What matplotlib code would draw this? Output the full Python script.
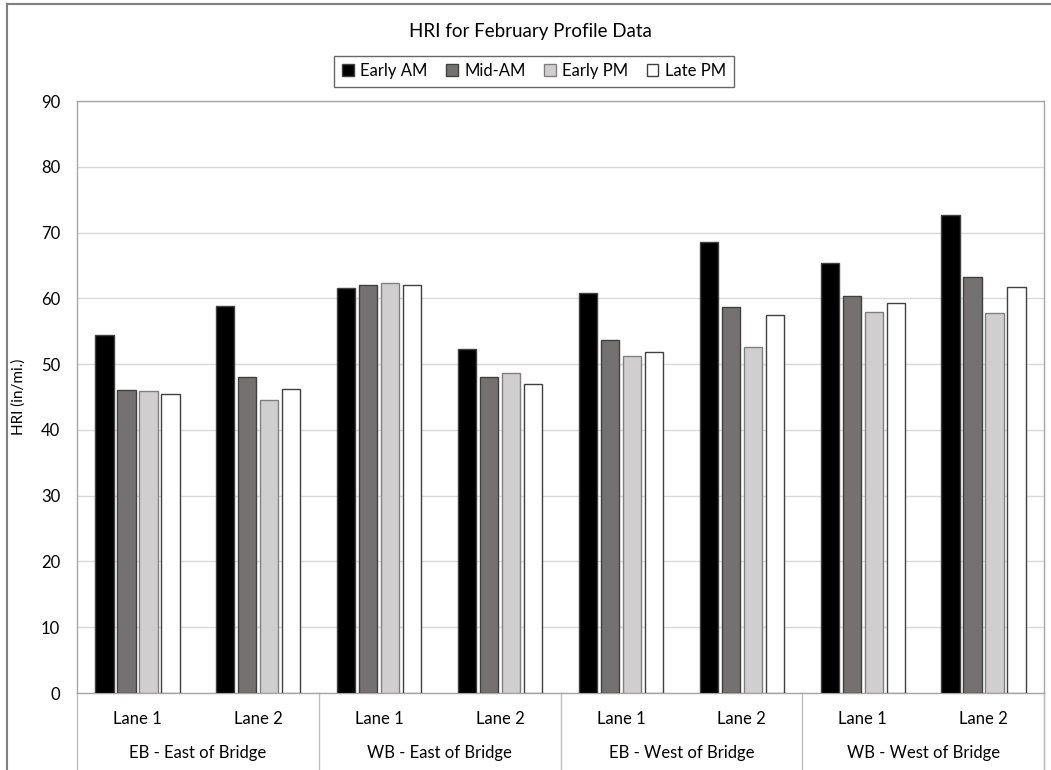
import matplotlib
matplotlib.use('Agg')
from matplotlib import pyplot as plt
from matplotlib.patches import Patch
import numpy as np

plt.rcParams['font.family'] = ['Lato', 'DejaVu Sans']

groups = ['EB - East of Bridge', 'WB - East of Bridge', 'EB - West of Bridge', 'WB - West of Bridge']
lanes = ['Lane 1', 'Lane 2']
series = ['Early AM', 'Mid-AM', 'Early PM', 'Late PM']
colors = ['#000000', '#767171', '#d0cece', '#ffffff']
edges = ['#404040', '#404040', '#808080', '#404040']

early_am = [54.4, 58.9, 61.5, 52.3, 60.8, 68.6, 65.3, 72.7]
mid_am = [46.1, 48.1, 62.1, 48.0, 53.6, 58.7, 60.3, 63.2]
early_pm = [45.9, 44.5, 62.4, 48.7, 51.3, 52.6, 57.9, 57.7]
late_pm = [45.5, 46.2, 62.1, 47.0, 51.9, 57.5, 59.3, 61.7]
values = [early_am, mid_am, early_pm, late_pm]

W, H = 1051, 770
fig = plt.figure(figsize=(W / 100, H / 100), dpi=100)
ax = fig.add_axes([77 / W, (H - 693) / H, (1044 - 77) / W, (693 - 101) / H])

n = len(early_am)
x = np.arange(n)
width = 0.15
pitch = 0.182
for i, vals in enumerate(values):
    ax.bar(x + (i - 1.5) * pitch, vals, width, color=colors[i],
           edgecolor=edges[i], linewidth=1, label=series[i], zorder=3)

ax.set_xlim(-0.5, n - 0.5)
ax.set_ylim(0, 90)
ax.set_yticks(range(0, 91, 10))
ax.yaxis.grid(True, color='#d9d9d9', linewidth=1, zorder=0)
ax.tick_params(axis='y', length=0, labelsize=12, pad=12)
ax.set_ylabel('HRI (in/mi.)', fontsize=11)
ax.yaxis.label.set_va('center')
ax.yaxis.set_label_coords((19 - 77) / 967, 0.5)
for s in ax.spines.values():
    s.set_color('#a6a6a6')
    s.set_linewidth(1)

ax.set_xticks(x)
ax.set_xticklabels(lanes * len(groups), fontsize=12)
ax.tick_params(axis='x', length=0, pad=13)

# group labels and separators below the axis
trans = ax.get_xaxis_transform()
bottom = -(H - 693) / (693 - 101)
for g, name in enumerate(groups):
    ax.text(2 * g + 0.5, -(753 - 693) / 592, name, transform=trans, ha='center',
            va='center', fontsize=12)
for b in np.arange(-0.5, n, 2):
    ax.plot([b, b], [0, bottom], transform=trans, color='#bfbfbf',
            linewidth=1, clip_on=False)
ax.plot([n - 0.5, n - 0.5], [0, bottom], transform=trans, color='#bfbfbf',
        linewidth=1, clip_on=False)

fig.text(530 / W, 1 - 32 / H, 'HRI for February Profile Data',
         ha='center', va='center', fontsize=13.5)

handles = [Patch(facecolor=colors[i], edgecolor=edges[i], label=series[i])
           for i in range(4)]
leg = fig.legend(handles=handles, loc='center', bbox_to_anchor=(534 / W, 1 - 71 / H),
                 ncol=4, fontsize=12, frameon=True, fancybox=False,
                 handlelength=0.7, handleheight=0.7, handletextpad=0.4,
                 columnspacing=1.1, borderpad=0.45)
leg.get_frame().set_edgecolor('#404040')
leg.get_frame().set_linewidth(1)

# chart border (cropped at right and bottom)
fig.add_artist(plt.Line2D([7 / W, 7 / W], [0, 1 - 4 / H], color='#808080',
                          linewidth=1.5, transform=fig.transFigure))
fig.add_artist(plt.Line2D([7 / W, 1], [1 - 4 / H, 1 - 4 / H], color='#808080',
                          linewidth=1.5, transform=fig.transFigure))

fig.savefig('out.png', dpi=100)
